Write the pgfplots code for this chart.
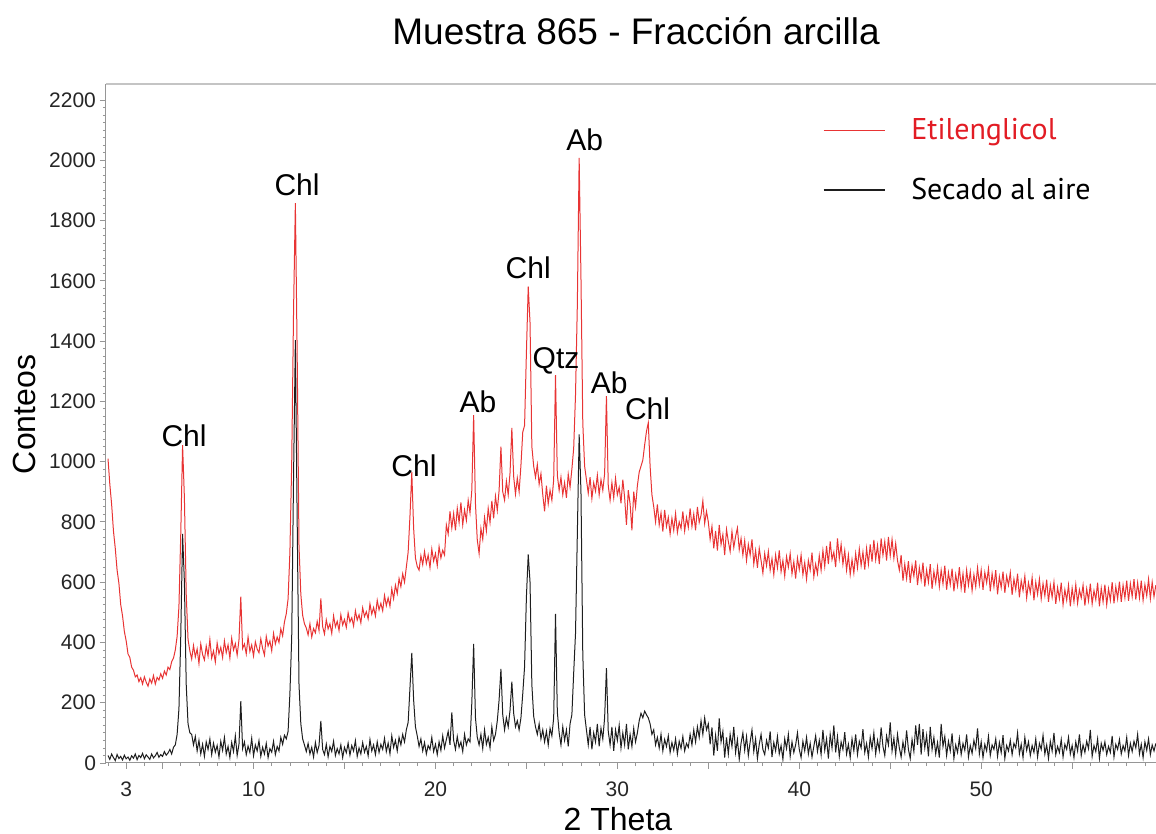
\documentclass[border=0pt]{standalone}
\usepackage{pgfplots}
\pgfplotsset{compat=1.18}
\usepackage{pgfplotstable}
\usepackage{fontspec}
\setmainfont{Liberation Sans}
\newfontfamily\legfont{PT Sans}
\definecolor{egred}{RGB}{232,52,52}
\definecolor{legred}{RGB}{226,28,36}
\definecolor{airblack}{RGB}{30,30,30}
\definecolor{axisgray}{RGB}{150,150,150}
\definecolor{framegray}{RGB}{196,196,196}

% 2theta, counts with ethylene glycol (eg), counts air dried (ad)
\pgfplotstableread{
tt eg ad
2.0 1010 25
2.1 925 12
2.2 858 30
2.3 770 18
2.4 712 8
2.5 640 28
2.6 596 15
2.7 525 22
2.8 488 10
2.9 436 26
3.0 405 14
3.1 362 20
3.2 350 9
3.3 318 24
3.4 308 16
3.5 286 30
3.6 292 11
3.7 270 25
3.8 283 18
3.9 262 32
4.0 286 14
4.1 268 27
4.2 255 20
4.3 279 12
4.4 265 30
4.5 290 17
4.6 262 24
4.7 284 35
4.8 275 19
4.9 296 28
5.0 281 22
5.1 305 38
5.2 292 26
5.3 318 33
5.4 310 45
5.5 336 30
5.6 348 52
5.7 375 60
5.8 420 95
5.9 520 180
6.0 760 420
6.1 1055 760
6.2 880 600
6.3 560 260
6.4 410 130
6.5 372 100
6.6 345 95
6.7 390 60
6.8 352 88
6.9 378 40
7.0 330 75
7.1 395 30
7.2 360 62
7.3 342 22
7.4 388 70
7.5 355 45
7.6 410 80
7.7 348 28
7.8 372 66
7.9 335 36
8.0 398 58
8.1 362 20
8.2 384 72
8.3 350 42
8.4 405 85
8.5 366 30
8.6 392 55
8.7 348 18
8.8 414 68
8.9 375 38
9.0 396 90
9.1 358 25
9.2 408 62
9.3 552 205
9.4 380 48
9.5 395 70
9.6 362 28
9.7 418 56
9.8 370 35
9.9 392 82
10.0 355 24
10.1 402 60
10.2 378 40
10.3 366 74
10.4 412 22
10.5 380 52
10.6 358 30
10.7 420 65
10.8 388 18
10.9 405 48
11.0 372 36
11.1 430 72
11.2 395 28
11.3 418 55
11.4 400 40
11.5 445 85
11.6 422 62
11.7 468 92
11.8 495 80
11.9 545 105
12.0 700 230
12.1 1000 420
12.2 1500 950
12.3 1858 1403
12.4 1350 800
12.5 720 260
12.6 560 130
12.7 490 80
12.8 462 60
12.9 448 38
13.0 425 65
13.1 462 30
13.2 418 52
13.3 446 20
13.4 432 68
13.5 470 35
13.6 440 58
13.7 546 140
13.8 452 45
13.9 428 28
14.0 475 62
14.1 445 20
14.2 462 55
14.3 430 38
14.4 488 72
14.5 452 25
14.6 470 48
14.7 440 30
14.8 492 60
14.9 458 18
15.0 476 52
15.1 450 34
15.2 498 66
15.3 468 26
15.4 482 58
15.5 455 40
15.6 505 74
15.7 474 22
15.8 492 50
15.9 465 30
16.0 515 68
16.1 486 36
16.2 502 55
16.3 478 24
16.4 528 78
16.5 494 40
16.6 516 60
16.7 488 28
16.8 540 70
16.9 508 35
17.0 530 62
17.1 505 45
17.2 556 82
17.3 522 38
17.4 548 66
17.5 520 30
17.6 578 90
17.7 545 52
17.8 590 75
17.9 562 40
18.0 612 85
18.1 585 60
18.2 628 95
18.3 600 70
18.4 650 110
18.5 700 135
18.6 820 250
18.7 965 365
18.8 780 210
18.9 680 120
19.0 652 90
19.1 640 55
19.2 688 80
19.3 658 40
19.4 702 68
19.5 662 30
19.6 690 58
19.7 648 45
19.8 710 85
19.9 670 38
20.0 695 62
20.1 655 28
20.2 718 70
20.3 680 42
20.4 706 90
20.5 690 50
20.6 790 78
20.7 760 105
20.8 835 60
20.9 780 168
21.0 828 75
21.1 772 45
21.2 845 88
21.3 798 52
21.4 865 70
21.5 790 38
21.6 840 95
21.7 805 60
21.8 872 80
21.9 830 70
22.0 905 200
22.1 1154 395
22.2 860 150
22.3 740 85
22.4 695 60
22.5 778 95
22.6 742 48
22.7 815 110
22.8 770 62
22.9 845 85
23.0 798 50
23.1 870 120
23.2 812 75
23.3 885 95
23.4 838 140
23.5 905 210
23.6 1050 312
23.7 900 160
23.8 872 110
23.9 935 150
24.0 890 120
24.1 962 175
24.2 1112 270
24.3 950 165
24.4 892 120
24.5 945 140
24.6 900 110
24.7 988 150
24.8 1098 230
24.9 1120 320
25.0 1360 550
25.1 1581 692
25.2 1460 600
25.3 1050 260
25.4 985 155
25.5 948 120
25.6 990 95
25.7 925 130
25.8 960 80
25.9 890 110
26.0 835 70
26.1 920 105
26.2 860 60
26.3 905 115
26.4 872 90
26.5 940 150
26.6 1287 495
26.7 955 170
26.8 905 100
26.9 948 60
27.0 890 120
27.1 930 75
27.2 880 110
27.3 958 55
27.4 915 130
27.5 975 160
27.6 1045 300
27.7 1222 430
27.8 1520 760
27.9 2008 1090
28.0 1610 900
28.1 1128 360
28.2 985 160
28.3 940 110
28.4 895 60
28.5 948 120
28.6 878 45
28.7 930 100
28.8 902 70
28.9 955 130
29.0 890 55
29.1 940 115
29.2 905 80
29.3 960 150
29.4 1217 315
29.5 920 105
29.6 872 60
29.7 930 120
29.8 880 40
29.9 945 110
30.0 890 75
30.1 915 125
30.2 862 50
30.3 940 100
30.4 880 60
30.5 790 130
30.6 905 45
30.7 860 95
30.8 772 55
30.9 900 115
31.0 850 70
31.1 920 100
31.2 965 140
31.3 985 165
31.4 1005 150
31.5 1055 172
31.6 1100 160
31.7 1129 150
31.8 985 130
31.9 890 95
32.0 850 110
32.1 800 60
32.2 858 85
32.3 790 50
32.4 830 95
32.5 768 40
32.6 840 78
32.7 785 55
32.8 815 90
32.9 760 35
33.0 812 68
33.1 772 42
33.2 828 80
33.3 765 30
33.4 800 72
33.5 778 48
33.6 835 88
33.7 770 40
33.8 815 65
33.9 782 52
34.0 845 95
34.1 785 60
34.2 826 110
34.3 772 70
34.4 850 120
34.5 798 85
34.6 822 140
34.7 870 95
34.8 795 150
34.9 835 110
35.0 800 130
35.1 742 62
35.2 785 118
35.3 712 25
35.4 770 92
35.5 705 40
35.6 790 148
35.7 725 70
35.8 758 105
35.9 690 18
36.0 775 85
36.1 735 30
36.2 702 95
36.3 768 55
36.4 715 120
36.5 752 35
36.6 780 78
36.7 708 12
36.8 745 66
36.9 690 100
37.0 738 42
37.1 672 88
37.2 725 25
37.3 690 70
37.4 742 110
37.5 660 38
37.6 705 80
37.7 648 15
37.8 712 62
37.9 672 95
38.0 630 45
38.1 695 28
38.2 655 75
38.3 702 50
38.4 640 105
38.5 678 20
38.6 625 68
38.7 690 40
38.8 648 88
38.9 705 30
39.0 635 58
39.1 672 12
39.2 620 80
39.3 685 48
39.4 650 95
39.5 695 22
39.6 628 70
39.7 668 35
39.8 612 60
39.9 680 100
40.0 642 45
40.1 690 18
40.2 625 72
40.3 665 40
40.4 610 85
40.5 672 30
40.6 640 65
40.7 698 20
40.8 618 55
40.9 660 90
41.0 628 38
41.1 688 75
41.2 640 28
41.3 705 110
41.4 652 42
41.5 720 80
41.6 660 15
41.7 735 95
41.8 675 50
41.9 700 125
42.0 650 35
42.1 745 88
42.2 678 22
42.3 725 70
42.4 660 45
42.5 705 102
42.6 640 30
42.7 690 62
42.8 625 18
42.9 675 80
43.0 630 40
43.1 695 95
43.2 648 28
43.3 710 72
43.4 655 50
43.5 700 112
43.6 642 35
43.7 712 65
43.8 660 20
43.9 725 85
44.0 668 48
44.1 740 100
44.2 675 30
44.3 722 75
44.4 660 42
44.5 745 118
44.6 690 55
44.7 735 25
44.8 672 90
44.9 750 60
45.0 688 135
45.1 742 40
45.2 680 82
45.3 728 28
45.4 672 95
45.5 640 50
45.6 690 20
45.7 605 70
45.8 660 35
45.9 612 108
46.0 670 45
46.1 598 15
46.2 655 78
46.3 620 38
46.4 672 125
46.5 590 60
46.6 648 130
46.7 608 28
46.8 665 112
46.9 585 50
47.0 640 92
47.1 600 22
47.2 660 120
47.3 578 45
47.4 635 85
47.5 598 30
47.6 650 68
47.7 585 18
47.8 640 130
47.9 595 55
48.0 655 88
48.1 575 25
48.2 632 72
48.3 592 40
48.4 645 98
48.5 570 15
48.6 625 60
48.7 588 35
48.8 650 82
48.9 580 28
49.0 628 65
49.1 565 42
49.2 640 95
49.3 590 20
49.4 635 58
49.5 572 32
49.6 625 75
49.7 585 48
49.8 648 115
49.9 592 30
50.0 640 70
50.1 575 18
50.2 632 62
50.3 598 40
50.4 645 88
50.5 570 25
50.6 628 60
50.7 585 45
50.8 640 80
50.9 560 22
51.0 618 68
51.1 582 35
51.2 635 92
51.3 565 15
51.4 620 58
51.5 590 40
51.6 632 75
51.7 558 28
51.8 610 65
51.9 575 50
52.0 628 100
52.1 550 30
52.2 605 62
52.3 572 18
52.4 620 85
52.5 548 42
52.6 598 70
52.7 565 25
52.8 615 58
52.9 540 35
53.0 600 80
53.1 560 20
53.2 610 65
53.3 545 45
53.4 595 92
53.5 555 30
53.6 608 60
53.7 535 15
53.8 590 72
53.9 550 40
54.0 600 100
54.1 528 28
54.2 582 55
54.3 545 35
54.4 598 78
54.5 525 20
54.6 575 62
54.7 540 45
54.8 590 85
54.9 520 30
55.0 580 58
55.1 535 18
55.2 592 70
55.3 530 40
55.4 575 95
55.5 548 25
55.6 590 60
55.7 522 35
55.8 578 72
55.9 538 48
56.0 595 110
56.1 528 22
56.2 572 58
56.3 542 38
56.4 598 80
56.5 520 15
56.6 580 65
56.7 535 42
56.8 592 70
56.9 525 28
57.0 578 55
57.1 540 35
57.2 600 90
57.3 530 20
57.4 585 62
57.5 545 45
57.6 602 78
57.7 535 30
57.8 590 58
57.9 548 40
58.0 605 85
58.1 538 25
58.2 595 65
58.3 552 38
58.4 610 72
58.5 542 50
58.6 598 95
58.7 548 30
58.8 605 62
58.9 540 18
59.0 592 70
59.1 555 42
59.2 610 80
59.3 545 28
59.4 600 60
59.5 552 40
59.6 590 65
}\xrd

\begin{document}
\begin{tikzpicture}
\useasboundingbox (-53pt,-35.5pt) rectangle (525pt,381.5pt);
\begin{axis}[
  at={(0,0)}, anchor=south west,
  scale only axis, width=525pt, height=339.5pt,
  xmin=1.89, xmax=59.61, ymin=0, ymax=2253,
  axis line style={draw=none},
  clip mode=individual,
  xtick={3,10,20,30,40,50},
  minor xtick={2,...,59},
  extra x ticks={5,15,25,35,45,55},
  extra x tick labels={},
  ytick={0,200,...,2200},
  minor y tick num=7,
  tick align=outside,
  xtick pos=bottom, ytick pos=left,
  major tick length=3pt, minor tick length=1.6pt,
  tick style={axisgray, line width=0.4pt},
  ticklabel style={font=\fontsize{10.5}{12}\selectfont, text=black!85},
  /pgf/number format/assume math mode=true,
  /pgf/number format/set thousands separator={},
  scaled y ticks=false,
  xticklabel style={yshift=-3pt},
  yticklabel style={xshift=1.5pt},
  legend style={at={(0.6829,0.955)}, anchor=north west, draw=none, fill=none,
    inner sep=0pt, outer sep=0pt, row sep=13.5pt, column sep=11pt,
    font=\legfont\fontsize{15}{18}\selectfont},
  legend cell align=left,
  legend image code/.code={\draw[#1, line width=0.6pt] (0pt,0pt) -- (30.5pt,0pt);},
]
\addplot[egred, line width=0.5pt] table[x=tt, y=eg]{\xrd};
\addlegendentry{\textcolor{legred}{Etilenglicol}}
\addplot[airblack, line width=0.5pt] table[x=tt, y=ad]{\xrd};
\addlegendentry{Secado al aire}

% frame: left and bottom axes, light top rule
\draw[axisgray, line width=0.5pt] (rel axis cs:0,1) -- (rel axis cs:0,0) -- (rel axis cs:1,0);
\draw[framegray, line width=1pt] (rel axis cs:0,1) -- (rel axis cs:1,1);

% mineral labels
\begin{scope}[every node/.style={font=\fontsize{15}{18}\selectfont}]
\node at (axis cs:6.18,1085) {Chl};
\node at (axis cs:12.39,1918) {Chl};
\node at (axis cs:18.82,985) {Chl};
\node at (axis cs:22.34,1200) {Ab};
\node at (axis cs:25.1,1642) {Chl};
\node at (axis cs:26.63,1335) {Qtz};
\node at (axis cs:28.2,2068) {Ab};
\node at (axis cs:29.55,1262) {Ab};
\node at (axis cs:31.66,1175) {Chl};
\end{scope}

% titles
\node[anchor=base, font=\fontsize{18.5}{22}\selectfont] at (rel axis cs:0.5048,1.0589) {Muestra 865 - Fracción arcilla};
\node[anchor=base, rotate=90, font=\fontsize{16}{19}\selectfont] at (rel axis cs:-0.0676,0.5133) {Conteos};
\node[anchor=base, font=\fontsize{16}{19}\selectfont] at (rel axis cs:0.4876,-0.0987) {2 Theta};
\end{axis}
\end{tikzpicture}
\end{document}
